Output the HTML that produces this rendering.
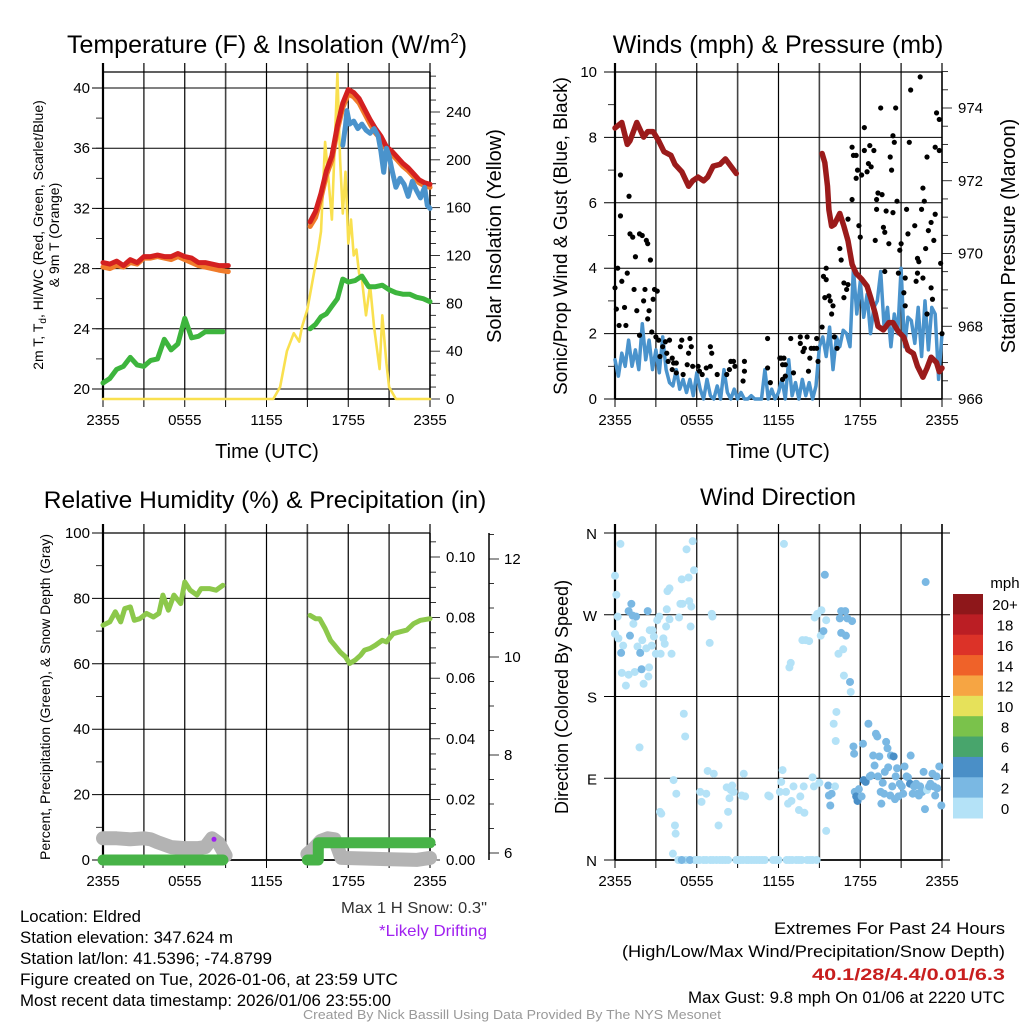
<!DOCTYPE html>
<html><head><meta charset="utf-8"><style>
html,body{margin:0;padding:0;background:#fff;}
svg{display:block;font-family:"Liberation Sans",sans-serif;}
</style></head><body>
<svg id="fig" width="1024" height="1024" viewBox="0 0 1024 1024" xmlns="http://www.w3.org/2000/svg">
<rect width="1024" height="1024" fill="#fff"/>
<g id="layer"></g>
<text x="267" y="53" font-size="25" text-anchor="middle">Temperature (F) &amp; Insolation (W/m<tspan dy="-10" font-size="15">2</tspan><tspan dy="10">)</tspan></text>
<text x="778" y="53" font-size="25" text-anchor="middle">Winds (mph) &amp; Pressure (mb)</text>
<text x="265" y="508" font-size="24.5" text-anchor="middle">Relative Humidity (%) &amp; Precipitation (in)</text>
<text x="778" y="505" font-size="24" text-anchor="middle">Wind Direction</text>
<text transform="translate(43,235) rotate(-90)" font-size="14" text-anchor="middle">2m T, T<tspan font-size="10" dy="3">d</tspan><tspan dy="-3">, HI/WC (Red, Green, Scarlet/Blue)</tspan></text>
<text transform="translate(59,235) rotate(-90)" font-size="14" text-anchor="middle">&amp; 9m T (Orange)</text>
<text transform="translate(501,236) rotate(-90)" font-size="20" text-anchor="middle">Solar Insolation (Yellow)</text>
<text transform="translate(567,236) rotate(-90)" font-size="19" text-anchor="middle">Sonic/Prop Wind &amp; Gust (Blue, Black)</text>
<text transform="translate(1015,236) rotate(-90)" font-size="20" text-anchor="middle">Station Pressure (Maroon)</text>
<text transform="translate(50,697) rotate(-90)" font-size="14" text-anchor="middle">Percent, Precipitation (Green), &amp; Snow Depth (Gray)</text>
<text transform="translate(568,697) rotate(-90)" font-size="18" text-anchor="middle">Direction (Colored By Speed)</text>
<text x="267" y="458" font-size="20" text-anchor="middle">Time (UTC)</text>
<text x="778" y="458" font-size="20" text-anchor="middle">Time (UTC)</text>
<text x="341" y="913" font-size="16" textLength="146" lengthAdjust="spacingAndGlyphs" fill="#333">Max 1 H Snow: 0.3"</text>
<text x="379" y="936" font-size="16" textLength="108" lengthAdjust="spacingAndGlyphs" fill="#a020f0">*Likely Drifting</text>
<g font-size="16.5">
<text x="20" y="922" textLength="121" lengthAdjust="spacingAndGlyphs">Location: Eldred</text>
<text x="20" y="943" textLength="213" lengthAdjust="spacingAndGlyphs">Station elevation: 347.624 m</text>
<text x="20" y="964" textLength="252" lengthAdjust="spacingAndGlyphs">Station lat/lon: 41.5396; -74.8799</text>
<text x="20" y="985" textLength="378" lengthAdjust="spacingAndGlyphs">Figure created on Tue, 2026-01-06, at 23:59 UTC</text>
<text x="20" y="1006" textLength="371" lengthAdjust="spacingAndGlyphs">Most recent data timestamp: 2026/01/06 23:55:00</text>
</g>
<g font-size="17">
<text x="774" y="934" textLength="231" lengthAdjust="spacingAndGlyphs">Extremes For Past 24 Hours</text>
<text x="622" y="957" textLength="383" lengthAdjust="spacingAndGlyphs">(High/Low/Max Wind/Precipitation/Snow Depth)</text>
<text x="812" y="980" textLength="193" lengthAdjust="spacingAndGlyphs" fill="#c81e1e" font-weight="bold">40.1/28/4.4/0.01/6.3</text>
<text x="688" y="1003" textLength="317" lengthAdjust="spacingAndGlyphs">Max Gust: 9.8 mph On 01/06 at 2220 UTC</text>
</g>
<text x="303" y="1019" font-size="13" textLength="418" lengthAdjust="spacingAndGlyphs" fill="#999">Created By Nick Bassill Using Data Provided By The NYS Mesonet</text>
</svg>
<script>
// ---- data ----
const timeTickLabels=["2355","0555","1155","1755","2355"];
const timeTickHours=[0,6,12,18,24];
const tempTicks=[20,24,28,32,36,40];
const solarTicks=[0,40,80,120,160,200,240];
const windTicks=[0,2,4,6,8,10];
const presTicks=[966,968,970,972,974];
const rhTicks=[0,20,40,60,80,100];
const precipTicks=["0.00","0.02","0.04","0.06","0.08","0.10"];
const snowTicks=[6,8,10,12];
const dirTickLabels=["N","E","S","W","N"];
const dirTicks=[0,90,180,270,360];
const cbarLabels=["20+","18","16","14","12","10","8","6","4","2","0"];
const cbarColors=["#8e171a","#bb1e24","#dc3228","#ef6229","#f6a543","#e6e15a","#7ac24b","#48a56c","#4a8fc7","#7ab8e3","#b4e2f7"];

const redT1=[0,0.5,1,1.5,2,2.5,3,3.5,4,4.5,5,5.5,6,6.5,7,7.5,8,8.5,9.2];
const redV1=[28.4,28.3,28.5,28.2,28.6,28.4,28.8,28.8,28.9,28.8,28.8,29.0,28.8,28.7,28.4,28.4,28.3,28.2,28.2];
const orgV1=[28.1,28.0,28.2,28.1,28.4,28.3,28.7,28.7,28.8,28.7,28.6,28.8,28.6,28.4,28.2,28.1,28.0,27.9,27.8];
const redT2=[15.2,15.6,16.0,16.4,16.8,17.2,17.6,18.0,18.4,18.8,19.2,19.6,20.0,20.4,20.8,21.2,21.6,22.0,22.4,22.8,23.2,23.6,24];
const redV2=[31.1,31.8,33.0,34.5,35.5,37.5,39.0,39.9,39.7,39.3,38.6,37.9,37.3,36.8,36.1,35.8,35.4,35.0,34.7,34.3,33.9,33.7,33.6];
const orgV2=[30.8,31.4,32.7,34.2,35.2,37.2,38.7,39.6,39.4,39.0,38.3,37.6,37.0,36.6,35.9,35.6,35.2,34.8,34.5,34.1,33.7,33.5,33.4];
const blueT=[17.6,17.8,17.9,18.1,18.4,18.7,19.0,19.3,19.6,19.9,20.2,20.4,20.6,20.8,21.0,21.2,21.5,21.8,22.1,22.4,22.7,23.0,23.3,23.6,23.8,24];
const blueV=[36.2,37.5,38.5,37.6,37.8,37.3,37.6,37.2,37.0,37.3,36.8,35.8,34.4,36.0,35.5,34.6,33.4,34.0,33.6,32.8,33.8,33.2,32.7,33.4,32.2,32.0];
const grnT1=[0,0.5,1,1.5,2,2.5,3,3.5,4,4.5,5,5.5,6,6.5,7,7.5,8,8.8];
const grnV1=[20.4,20.7,21.3,21.5,22.1,21.6,21.5,21.9,22.0,23.3,22.6,23.0,24.7,23.4,23.5,23.8,23.8,23.8];
const grnT2=[15.2,15.6,16,16.4,16.8,17.2,17.6,18,18.5,19,19.5,20,20.5,21,21.5,22,22.5,23,23.5,24];
const grnV2=[24.0,24.3,24.8,25.0,25.5,26.0,27.3,27.1,27.2,27.5,26.8,26.8,26.9,26.6,26.4,26.3,26.3,26.1,26.0,25.8];
const solT=[0,12.5,13,13.5,14,14.4,14.6,15,15.4,15.8,16,16.3,16.5,16.8,17.0,17.2,17.4,17.6,17.8,18.0,18.2,18.4,18.6,18.8,19.0,19.3,19.6,19.9,20.3,20.5,20.8,21.0,21.5,24];
const solV=[0,0,10,40,55,48,60,75,100,125,140,215,190,150,210,272,200,155,190,130,150,120,125,105,100,70,95,60,25,70,30,10,0,0];

const windSust=[1.2,0.7,1.4,1.0,1.8,1.0,1.5,0.9,2.3,1.2,1.8,0.9,
1.5,0.8,1.9,0.9,0.5,0.4,0.9,0.3,0.6,0.2,0.6,0.1,
0.8,0.3,0.0,0.6,0.1,0.0,0.4,0.0,0.9,0.2,0.0,0.3,
0.0,0.2,0.0,0.0,0.1,0.0,0.0,0.0,0.9,0.0,0.3,0.0,
0.2,0.6,0.0,1.2,0.1,0.5,0.0,0.6,0.1,0.5,0.0,0.4,
1.6,1.9,1.3,2.2,0.9,1.9,1.6,2.1,2.0,1.6,4.0,2.6,
3.6,2.5,3.2,2.0,2.8,3.0,3.9,2.2,2.8,1.6,2.6,2.0,
4.0,1.6,2.5,2.4,1.7,2.8,1.3,3.0,1.5,2.8,2.6,0.6,2.0];
const gustT=[0.0,0.1,0.2,0.4,0.4,0.3,0.5,0.7,0.8,0.9,1.03,1.1,1.3,1.4,1.5,1.6,1.8,1.8,2.0,2.1,2.2,2.3,2.4,2.4,2.5,2.6,2.7,2.8,2.9,3.1,3.0,3.2,3.3,3.5,3.7,3.8,4.0,3.9,4.2,4.3,4.5,4.2,4.5,4.9,4.8,5.0,5.3,5.4,5.5,5.6,5.7,6.1,6.2,6.4,6.7,7.0,7.0,7.1,7.5,8.2,8.4,8.5,8.7,8.8,9.4,9.5,9.5,11.2,11.2,11.4,12.1,12.2,12.4,12.3,12.5,12.3,12.5,12.9,13.1,13.6,13.6,13.8,13.9,14.1,14.2,14.3,14.4,14.6,14.8,14.8,14.9,15.2,15.3,15.4,15.5,15.5,15.7,15.8,15.9,16.0,16.1,16.3,16.5,16.6,16.8,16.8,17.0,17.1,17.1,17.4,17.4,17.5,17.7,17.7,17.8,17.9,18.0,18.1,18.3,18.3,18.5,18.6,18.7,18.8,19.0,19.1,19.2,19.2,19.3,19.5,19.6,19.7,19.8,19.8,19.9,20.1,20.2,20.3,20.4,20.5,20.6,20.4,20.7,20.8,20.9,21.0,21.2,21.3,21.3,21.4,21.5,21.6,21.7,22.0,22.1,22.2,22.4,22.5,22.6,22.2,22.3,22.6,22.7,22.8,22.9,22.9,23.0,23.2,23.2,23.4,23.3,23.5,23.5,23.6,23.8,23.8,23.9,24.0];
const gustV=[3.4,2.75,4.0,6.85,5.6,2.25,3.6,2.8,2.25,3.85,6.2,5.05,4.95,3.35,4.35,2.7,1.95,5.05,5.0,3.0,3.35,4.85,4.75,2.45,2.7,4.25,2.05,3.05,3.35,3.3,1.9,1.8,1.3,1.6,1.75,1.4,1.8,1.15,1.25,1.1,1.1,0.9,0.8,1.8,1.6,0.75,1.05,1.4,1.85,1.6,1.0,1.0,0.85,0.75,0.95,1.0,1.6,1.4,0.75,0.75,0.9,1.15,1.15,1.0,0.55,0.85,1.15,1.85,0.95,0.5,1.25,1.25,1.25,1.05,1.05,0.6,0.7,1.85,0.8,1.7,1.9,1.45,1.55,1.9,0.85,1.25,1.55,1.55,1.85,1.55,1.15,2.2,3.75,3.1,4.0,3.65,3.15,3.0,2.6,2.85,1.9,1.55,4.6,4.25,3.1,3.55,3.35,3.5,5.5,6.1,7.7,7.45,7.45,6.75,7.0,5.3,4.95,6.85,8.3,7.6,6.95,7.2,7.75,7.1,7.6,4.85,5.8,6.1,6.3,8.9,6.25,5.25,3.9,5.1,5.75,4.75,7.4,7.0,8.05,7.85,8.9,5.7,6.05,3.85,4.55,4.75,3.25,2.85,3.7,5.8,5.05,7.85,9.45,5.3,3.6,3.85,9.85,5.8,6.45,4.3,4.2,3.7,6.05,4.6,7.4,2.6,5.15,5.4,3.4,4.85,3.05,7.7,5.65,8.75,8.55,7.6,4.15,2.0];
const presT1=[0,0.5,0.9,1.1,1.6,2.1,2.4,2.8,3.2,3.6,4.1,4.4,4.9,5.4,5.7,6.1,6.5,6.8,7.2,7.7,8.1,8.6,8.9];
const presV1=[973.45,973.6,973.0,973.1,973.6,973.2,973.35,973.35,973.1,972.8,972.7,972.45,972.25,971.85,972.0,972.1,972.0,972.1,972.4,972.45,972.6,972.35,972.2];
const presT2=[15.2,15.4,15.6,15.7,15.9,16.1,16.5,16.8,17.1,17.4,17.7,18.1,18.5,18.8,19.1,19.3,19.7,20.1,20.4,20.8,21.2,21.5,21.9,22.2,22.6,22.9,23.2,23.6,23.8,24.0];
const presV2=[972.75,972.5,971.85,971.2,970.75,970.8,971.1,970.75,970.35,969.7,969.45,969.3,969.1,968.75,968.35,968.0,967.9,968.1,968.1,967.85,967.7,967.35,967.25,966.9,966.6,966.85,967.15,967.0,966.75,966.85];

const rhT1=[0,0.5,0.9,1.3,1.6,2.0,2.3,2.7,3.2,3.7,4.1,4.4,4.8,5.2,5.7,6.0,6.4,6.9,7.2,7.8,8.3,8.8];
const rhV1=[71.8,72.8,75.9,72.8,76.9,77.4,73.3,73.8,75.4,74.3,75.4,81.0,76.4,81.0,78.4,85.0,82.5,81.0,83.0,83.0,82.5,84.0];
const rhT2=[15.2,15.6,15.9,16.3,16.7,17.0,17.4,17.8,18.1,18.5,18.9,19.2,19.6,20.0,20.5,20.8,21.3,21.8,22.3,22.8,23.3,24.0];
const rhV2=[74.8,73.8,73.8,70.8,67.2,65.7,63.6,62.1,60.1,61.1,62.6,64.2,64.7,65.7,67.2,66.7,69.2,69.8,70.3,72.3,73.3,73.8];
const snowT1=[0,1,2,3,3.5,4,5,6,7,7.5,8,8.5,9];
const snowV1=[6.3,6.3,6.28,6.3,6.28,6.22,6.12,6.1,6.1,6.12,6.3,6.2,5.95];
const snowT2=[15,15.5,16,16.5,17,17.5,23,24];
const snowV2=[5.98,6.1,6.25,6.3,6.28,5.9,5.86,5.9];
const precT1=[0,8.8];
const precV1=[0,0];
const precT2=[15,15.8,15.8,24];
const precV2=[0,0,0.0057,0.0057];
const driftT=[8.0];
const driftV=[6.3];

const dirT=[0.0,0.1,0.4,0.2,0.0,0.25,0.6,0.45,0.5,0.8,1.0,1.0,1.1,1.2,1.3,1.35,1.45,1.55,1.65,1.8,1.85,1.95,2.0,2.1,2.3,2.4,2.5,2.55,2.45,2.7,2.75,2.85,3.0,3.1,3.25,3.35,3.3,3.4,3.55,3.65,3.75,3.8,3.85,4.0,4.0,4.15,4.25,4.3,4.4,4.45,4.5,4.65,4.7,4.8,4.9,4.95,5.05,5.15,5.2,5.25,5.4,5.45,5.55,5.6,5.7,5.8,5.85,6.25,6.35,6.5,6.7,6.8,6.95,7.1,7.15,7.25,7.45,7.6,7.7,8.2,8.3,8.4,8.5,8.6,8.7,8.9,9.3,9.45,9.55,9.65,10.0,10.4,11.25,11.35,11.6,12.1,12.2,12.3,12.4,12.55,12.6,12.7,12.8,12.9,12.95,13.1,13.3,13.5,13.6,13.75,13.85,13.9,14.0,14.1,14.25,14.5,14.6,14.65,14.8,14.85,15.0,15.1,15.15,15.3,15.4,15.5,15.5,15.65,15.7,15.8,15.9,16.15,16.2,16.05,16.25,16.4,16.5,16.6,16.6,16.75,16.8,16.9,16.95,17.05,17.25,17.3,17.4,17.5,17.55,17.6,17.7,17.8,17.9,18.1,18.2,18.25,18.4,18.6,18.7,18.8,18.95,19.05,19.15,19.25,19.3,19.4,19.5,19.55,19.65,19.75,19.8,19.9,20.0,20.05,20.2,20.25,20.35,20.45,20.55,20.6,20.7,20.8,20.9,21.05,21.15,21.25,21.4,21.5,21.65,21.7,21.85,21.95,22.1,22.2,22.3,22.4,22.55,22.65,22.75,22.8,22.9,23.05,23.15,23.3,23.4,23.5,23.6,23.65,23.8,23.95,4.9,5.5,6.0,6.2,6.7,7.0,7.2,7.9,8.1,8.3,9.0,9.2,9.4,9.8,10.2,10.6,10.8,11.0,11.8,12.0,12.8,13.0,13.5,13.7,14.3,14.5];
const dirV=[313,292,348,268,249,244,236,228,206,192,204,274,247,282,269,260,207,268,235,124,228,210,242,194,233,274,212,253,202,236,253,246,227,264,268,227,53,51,244,238,257,276,296,299,265,227,7,88,38,29,73,0,267,282,309,282,161,136,0,342,311,285,257,279,351,319,0,75,64,0,73,98,239,271,268,95,0,38,0,80,53,68,77,82,75,0,71,95,70,0,0,0,71,70,0,75,86,99,348,75,0,62,212,217,65,81,0,55,70,242,81,52,242,0,241,91,81,267,0,271,85,247,275,252,314,264,32,82,71,60,73,81,131,150,163,227,266,250,274,232,203,274,247,266,196,185,263,125,117,75,70,65,78,70,128,88,86,150,92,93,115,104,139,136,92,114,75,62,85,73,97,130,123,102,71,115,81,114,67,92,101,70,84,81,73,103,92,91,84,115,73,81,84,73,71,81,75,97,56,306,77,81,84,95,81,71,92,79,103,60,0,0,0,0,0,0,0,0,0,0,0,0,0,0,0,0,0,0,0,0,0,0,0,0,0,0];
const dirSpd=[1,1,1,1,1,1,1,3,1,1,1,3,3,3,3,1,1,3,1,1,3,3,1,1,1,3,1,1,1,1,1,1,1,1,1,1,1,1,1,1,1,1,1,1,1,1,1,1,1,1,1,1,1,1,1,1,1,1,1,1,1,1,1,1,1,1,1,1,1,1,1,1,1,1,1,1,1,1,1,1,1,1,1,1,1,1,1,1,1,1,1,1,1,1,1,1,1,1,1,1,1,1,1,1,1,1,1,1,1,1,1,1,1,1,1,1,1,1,1,1,1,1,1,3,3,1,1,3,3,3,3,1,1,1,1,1,3,3,3,1,1,3,3,3,3,1,3,3,3,3,5,5,3,3,3,5,5,3,3,3,3,3,3,3,3,3,3,3,3,3,3,3,3,3,3,3,3,5,3,3,3,3,3,3,3,3,3,3,5,3,3,3,3,3,3,3,3,3,3,3,1,3,3,3,3,3,3,3,3,3,3,3,1,1,1,1,1,1,1,1,1,1,1,1,1,1,1,1,1,1,1,1,1,1,1,1,1,1];
while(dirSpd.length<dirT.length) dirSpd.push(1);

// ---- drawing ----
const NS="http://www.w3.org/2000/svg";
const L=document.getElementById('layer');
function mk(tag,attrs,parent){const e=document.createElementNS(NS,tag);for(const k in attrs)e.setAttribute(k,attrs[k]);(parent||L).appendChild(e);return e;}
function lin(d0,d1,r0,r1){return v=>r0+(v-d0)/(d1-d0)*(r1-r0);}
function line(x1,y1,x2,y2,st,w,parent){return mk('line',{x1:x1,y1:y1,x2:x2,y2:y2,stroke:st,'stroke-width':w},parent);}
function txt(x,y,s,size,anchor,parent){const t=mk('text',{x:x,y:y,'font-size':size,'text-anchor':anchor||'middle'},parent);t.textContent=s;return t;}
function poly(ts,vs,xs,ys,color,w,name,g){
  const pts=ts.map((t,i)=>xs(t).toFixed(1)+','+ys(vs[i]).toFixed(1)).join(' ');
  const p=mk('polyline',{points:pts,fill:'none',stroke:color,'stroke-width':w,'stroke-linejoin':'round','stroke-linecap':'round'},g);
  
  
  return p;
}

function frame(x0,x1,y0,y1,xs,name){
  const g=mk('g',{});
  
  
  for(let h=0;h<=24;h+=3){const x=xs(h);line(x,y0-9,x,y1,(h%6==0)?'#000':'#444',(h%6==0)?1.2:1.6,g);line(x,y1,x,y1+8,'#000',1,g);}
  line(x0,y0,x1,y0,'#000',1.3,g);
  line(x0,y1,x1,y1,'#000',1.8,g);
  line(x0,y0-9,x0,y1,'#000',2.2,g);
  timeTickHours.forEach((h,i)=>{const t=txt(xs(h),y1+26,timeTickLabels[i],15,'middle',g);});
  return g;
}
function hgrid(g,x0,x1,y,len){line(x0-len,y,x1,y,'#000',1,g);}

// Panel 1
(function(){
  const xs=lin(0,24,103,430), yt=lin(20,40,389,88), ys=lin(0,240,399,112);
  const g=frame(103,430,72,399,xs,'temp-panel');
  for(let v=19.5;v<=41;v+=2){const y=yt(v+0.5);if(y>=72&&y<=399)line(96,y,103,y,'#000',0.8,g);}
  tempTicks.forEach(v=>{hgrid(g,103,430,yt(v),11);const t=txt(90,yt(v)+5,String(v),15,'end',g);});
  line(430,72,430,399,'#000',1.5,g);
  for(let v=0;v<=270;v+=10){line(430,ys(v),v%40==0?440:436,ys(v),'#000',0.8,g);}
  solarTicks.forEach(v=>{const t=txt(446,ys(v)+5,String(v),15,'start',g);});
  poly(solT,solV,xs,ys,'#f9e04f',2.6,'solar-line',g);
  poly(grnT1,grnV1,xs,yt,'#3db53d',5,'dewpoint-line-1',g);
  poly(grnT2,grnV2,xs,yt,'#3db53d',5,'dewpoint-line-2',g);
  poly(redT1,orgV1,xs,yt,'#f07b2a',5,'9m-temp-line-1',g);
  poly(redT2,orgV2,xs,yt,'#f07b2a',5,'9m-temp-line-2',g);
  poly(redT1,redV1,xs,yt,'#d42020',5,'2m-temp-line-1',g);
  poly(redT2,redV2,xs,yt,'#d42020',5,'2m-temp-line-2',g);
  poly(blueT,blueV,xs,yt,'#4a93cc',5,'windchill-line',g);
})();

// Panel 2
(function(){
  const xs=lin(0,24,615,942), yw=lin(0,10,399,72), yp=lin(966,974,399,108);
  const g=frame(615,942,72,399,xs,'wind-panel');
  for(let v=1;v<10;v+=2)line(608,yw(v),615,yw(v),'#000',0.8,g);
  windTicks.forEach(v=>{hgrid(g,615,942,yw(v),11);const t=txt(597,yw(v)+5,String(v),15,'end',g);});
  line(942,72,942,399,'#000',1.5,g);
  for(let v=966;v<=975;v+=0.5){line(942,yp(v),v%2==0?952:948,yp(v),'#000',0.8,g);}
  presTicks.forEach(v=>{const t=txt(958,yp(v)+5,String(v),15,'start',g);});
  const wt=windSust.map((v,i)=>i*24/(windSust.length-1));
  poly(wt,windSust,xs,yw,'#4a93cc',3.5,'sustained-wind-line',g);
  poly(presT1,presV1,xs,yp,'#9b1b1b',5.5,'pressure-line-1',g);
  poly(presT2,presV2,xs,yp,'#9b1b1b',5.5,'pressure-line-2',g);
  gustT.forEach((t,i)=>{const c=mk('circle',{cx:xs(t),cy:yw(gustV[i]),r:2.6,fill:'#000'},g);});
})();

// Panel 3
(function(){
  const xs=lin(0,24,103,430), yr=lin(0,100,860,533), ypr=lin(0,0.1,860,557), ysn=lin(6,12,853,559);
  const g=frame(103,430,533,860,xs,'rh-panel');
  for(let v=10;v<100;v+=20)line(96,yr(v),103,yr(v),'#000',0.8,g);
  rhTicks.forEach(v=>{hgrid(g,103,430,yr(v),11);const t=txt(90,yr(v)+5,String(v),15,'end',g);});
  line(430,533,430,860,'#000',1.5,g);
  for(let k=0;k<=21;k++){const v=k*0.005;line(430,ypr(v),k%4==0?440:436,ypr(v),'#000',0.8,g);}
  precipTicks.forEach((s,i)=>{const t=txt(446,ypr(i*0.02)+5,s,15,'start',g);});
  line(489,533,489,860,'#000',1.5,g);
  for(let v=6;v<=12.5;v+=0.5){line(489,ysn(v),v%2==0?499:494,ysn(v),'#000',0.8,g);}
  snowTicks.forEach(v=>{const t=txt(504,ysn(v)+5,String(v),15,'start',g);});
  poly(snowT1,snowV1,xs,ysn,'#b3b3b3',14,'snow-depth-line-1',g);
  poly(snowT2,snowV2,xs,ysn,'#b3b3b3',14,'snow-depth-line-2',g);
  poly(precT1,precV1,xs,ypr,'#47b347',11,'precip-line-1',g);
  poly(precT2,precV2,xs,ypr,'#47b347',11,'precip-line-2',g);
  poly(rhT1,rhV1,xs,yr,'#8cc84b',5,'rh-line-1',g);
  poly(rhT2,rhV2,xs,yr,'#8cc84b',5,'rh-line-2',g);
  driftT.forEach((t,i)=>{const c=mk('circle',{cx:xs(t)+2,cy:ysn(driftV[i])+1,r:2.5,fill:'#a020f0'},g);});
})();

// Panel 4
(function(){
  const xs=lin(0,24,615,942), yd=lin(0,360,860,533);
  const g=frame(615,942,533,860,xs,'winddir-panel');
  dirTicks.forEach((v,i)=>{hgrid(g,615,950,yd(v),11);const t=txt(597,yd(v)+6,dirTickLabels[i],15,'end',g);});
  line(942,524,942,860,'#000',1.5,g);
  function col(s){const idx=Math.min(10,Math.floor(s/2));return cbarColors[10-idx];}
  dirT.forEach((t,i)=>{const c=mk('circle',{cx:xs(t),cy:yd(dirV[i]),r:4,fill:col(dirSpd[i])},g);});
  const cb=mk('g',{});
  
  
  const h=(818-594)/cbarColors.length;
  cbarColors.forEach((c,i)=>{mk('rect',{x:953,y:594+i*h,width:30,height:h+0.5,fill:c},cb);const t=txt(1005,594+i*h+h/2+6,cbarLabels[i],15,'middle',cb);});
  const m=txt(1005,588,'mph',15,'middle',cb);
  
  
})();
</script>
</body></html>
